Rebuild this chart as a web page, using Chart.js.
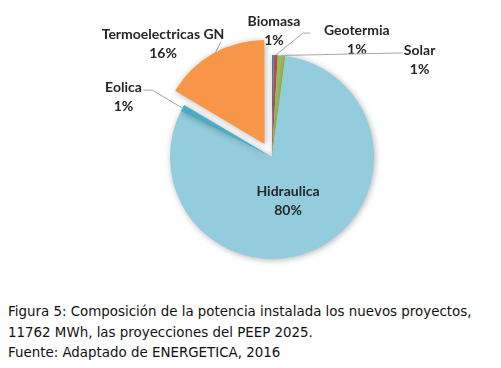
<!DOCTYPE html>
<html lang="es">
<head>
<meta charset="utf-8">
<script src="https://cdn.jsdelivr.net/npm/chart.js@4.4.1/dist/chart.umd.min.js"></script>
<style>
  html, body { margin: 0; padding: 0; background: #fff; }
  .wrap { width: 501px; height: 368px; position: relative; }
  .chart-box { width: 501px; height: 290px; position: relative; }
  .caption {
    position: absolute; left: 8px; top: 302px;
    font-family: 'DejaVu Sans', sans-serif; font-size: 13.4px; line-height: 20.5px;
    color: #111;
  }
</style>
</head>
<body>
<div class="wrap">
  <div class="chart-box"><canvas id="pie"></canvas></div>
  <div class="caption">
    Figura 5: Composición de la potencia instalada los nuevos proyectos,<br>
    11762 MWh, las proyecciones del PEEP 2025.<br>
    Fuente: Adaptado de ENERGETICA, 2016
  </div>
</div>
<script>
const categories = ['Biomasa', 'Geotermia', 'Solar', 'Hidraulica', 'Eolica', 'Termoelectricas GN'];
const shares = [0.3, 0.6, 1.2, 80.3, 1.1, 16.5];
const shareLabels = ['1%', '1%', '1%', '80%', '1%', '16%'];
const colors = ['#4F81BD', '#C0504D', '#9BBB59', '#93CDDD', '#4BACC6', '#F79646'];
// chart.js moves an arc by offset/4 px
const explode = [0, 0, 0, 0, 0, 60];

// where each label sits relative to its slice (r = fraction of radius for anchor)
const labelLayout = [
  { r: 1, dx: 1, dy: -34, line: [] },
  { r: 1, dx: 81, dy: -25, line: [[27, -22], [34, -22]] },
  { r: 1, dx: 138, dy: -5, line: [[121, -2.5]] },
  { r: 0, dx: 16, dy: 34, line: [] },
  { r: 1, dx: -59, dy: -21, line: [[-30, -18], [-39, -18]] },
  { r: 1, dx: -51, dy: -21, line: [[7, -14]] }
];

const shadowPlugin = {
  id: 'pieShadow',
  beforeDatasetDraw(chart) {
    const ctx = chart.ctx;
    ctx.save();
    ctx.shadowColor = 'rgba(0,0,0,0.3)';
    ctx.shadowBlur = 6;
    ctx.shadowOffsetX = 1;
    ctx.shadowOffsetY = 1;
  },
  afterDatasetDraw(chart) {
    chart.ctx.restore();
  }
};

const labelPlugin = {
  id: 'sliceLabels',
  afterDatasetsDraw(chart) {
    const ctx = chart.ctx;
    const arcs = chart.getDatasetMeta(0).data;
    ctx.save();
    ctx.font = "bold 14px 'Lato', sans-serif";
    ctx.textAlign = 'center';
    ctx.textBaseline = 'middle';
    arcs.forEach((arc, i) => {
      const p = arc.getProps(['x', 'y', 'startAngle', 'endAngle', 'outerRadius'], true);
      const mid = (p.startAngle + p.endAngle) / 2;
      const shift = (arc.options.offset || 0) / 4;
      const cx = p.x + Math.cos(mid) * shift;
      const cy = p.y + Math.sin(mid) * shift;
      const lay = labelLayout[i];
      const ax = cx + Math.cos(mid) * p.outerRadius * lay.r;
      const ay = cy + Math.sin(mid) * p.outerRadius * lay.r;
      if (lay.line.length) {
        ctx.strokeStyle = '#A6A6A6';
        ctx.lineWidth = 1;
        ctx.beginPath();
        ctx.moveTo(ax, ay);
        lay.line.forEach(pt => ctx.lineTo(ax + pt[0], ay + pt[1]));
        ctx.stroke();
      }
      ctx.fillStyle = '#262626';
      ctx.fillText(categories[i], ax + lay.dx, ay + lay.dy);
      ctx.fillText(shareLabels[i], ax + lay.dx, ay + lay.dy + 19);
    });
    ctx.restore();
  }
};

new Chart(document.getElementById('pie'), {
  type: 'pie',
  data: {
    labels: categories,
    datasets: [{
      data: shares,
      backgroundColor: colors,
      borderWidth: 0,
      offset: explode,
      radius: 102
    }]
  },
  options: {
    responsive: true,
    maintainAspectRatio: false,
    animation: false,
    layout: { padding: { left: 58, right: 15, top: 38, bottom: 14 } },
    plugins: { legend: { display: false }, tooltip: { enabled: false } }
  },
  plugins: [shadowPlugin, labelPlugin]
});
</script>
</body>
</html>
